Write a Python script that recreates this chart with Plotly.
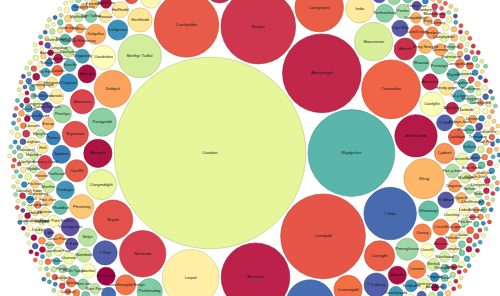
import math
import numpy as np
import plotly.graph_objects as go

# ---------------- data: places and how often each is mentioned ----------------
major_places = ["Llundain", "Rhydychen", "Caerdydd", "Aberystwyth", "Bangor", "Abertawe",
                "Caerfyrddin", "Caernarfon", "Lerpwl", "Y Bala", "Caergrawnt", "Wrecsam",
                "Bethesda", "Merthyr Tudful", "Aberhonddu", "Efrog", "Bryste", "Manceinion",
                "Dinbych", "Croesoswallt", "Caergybi", "Amlwch", "Llanymddyfri", "Pontypridd",
                "India", "Casnewydd", "Abergele", "Brynmawr", "Porthmadog", "Amwythig",
                "Machynlleth", "Henffordd", "Y Trallwng", "Llandudno", "Pwllheli", "Y Rhyl",
                "Biwmares", "Ffestiniog", "Llanfyllin", "Dulyn", "Pennsylvania", "Caerffili",
                "Aberdaugleddau", "Arberth", "Y Fenni", "Waunfawr"]
major_counts = [2250, 462, 441, 380, 342, 289, 256, 212, 196, 169,
                144, 144, 132, 116, 110, 100, 95, 90, 84, 76,
                56, 56, 56, 49, 49, 49, 49, 42, 39, 36,
                36, 36, 36, 36, 36, 36, 36, 36, 36, 30,
                30, 30, 30, 30, 30, 30]

places_25 = ["Abermaw", "Rhosneigr", "Y Drenewydd", "Bargod", "Castellnewydd Emlyn", "Cydweli",
             "Treffynnon", "Harlech", "Llanberis", "Abergwaun", "Mostyn", "Dolgellau"]
places_20 = ["Penrhyn", "Tyddewi", "Tredegar", "Aberdyfi", "Aberaeron", "Tregaron", "Llanidloes",
             "Nefyn", "Conwy", "Trefaldwyn", "Ystradgynlais", "Porthaethwy", "Aberdâr", "Corwen",
             "Penarth", "Rhuthun"]
places_16 = ["Cricieth", "Rhaeadr", "Dinas Mawddwy", "Abersoch", "Tywyn", "Ynys Môn", "Y Gelli",
             "Iwerddon", "Ffrainc", "Llandeilo", "Caeredin", "Patagonia", "Glyn Ebwy", "Yr Alban",
             "Sbaen", "Maesteg", "Llangollen", "Fflint", "Hwlffordd", "Bae Colwyn", "Prestatyn",
             "Caerloyw"]
places_12 = ["Aberteifi", "Caerfaddon", "Llandrindod", "Penfro", "Tonypandy", "Rhydaman",
             "Beddgelert", "Caer", "Llanelli", "Pen-y-bont", "Mwmbwls", "Trawsfynydd",
             "Dinbych-y-pysgod", "Gorseinon", "Llangefni", "Yr Almaen", "Caerwrangon", "Porthcawl",
             "Efrog Newydd", "Betws-y-Coed", "Awstralia", "Llanfair", "Hendy-gwyn", "Rhuddlan",
             "Treorci", "Menai", "Castell-nedd", "Wyddgrug", "Pontypŵl", "Leeds"]
places_9 = ["Abertyleri", "Blaenau Ffestiniog", "Caerlŷr", "Deganwy", "Ewrop", "Felinheli", "Groeg",
            "Hirwaun", "Llanbedr Pont Steffan", "Llanelwy", "Meifod", "Nantgarw", "Port Talbot",
            "Rhufain", "Sanclêr", "Talacharn", "Yr Eidal", "America", "Caergaint", "Llanrwst",
            "Penmaenmawr", "Trefdraeth", "Cwmbrân", "Llandysul", "Rhosllannerchrugog", "Tsieina",
            "Borth", "Caerllion", "Llansteffan", "Pontarddulais", "Tal-y-bont", "Dinorwig", "Lloegr",
            "Y Barri", "Affrica", "Caerwysg", "Moelfre", "Penrhyndeudraeth", "Rhymni", "Solfach"]
places_7 = ["Aberpennar", "Bedwas", "Caersws", "Dolwyddelan", "Eglwys-bach", "Ffair-rhos", "Glasgow",
            "Holt", "Iâl", "Libanus", "Llanbedr", "Llanwrtyd", "Maenclochog", "Nant Peris", "Pont-iets",
            "Rhiwabon", "Sain Ffagan", "Tre-gŵyr", "Wdig", "Y Waun", "Aberffraw", "Bodedern", "Caerwys",
            "Dyserth", "Llanfairfechan", "Llangrannog", "Mallwyd", "Nanhyfer", "Porth Tywyn", "Rhisga",
            "Trefriw", "Ystrad Mynach", "Abercynon", "Bontnewydd", "Canada", "Dinas Powys", "Gwalchmai",
            "Hengoed", "Lisbon", "Llantrisant", "Marchwiail", "Pumsaint", "Rhostryfan", "Trefor",
            "Waunarlwydd"]
places_5 = ["Aberaman", "Bow Street", "Cas-gwent", "Drefach", "Ewenni", "Felindre", "Gwaun-Cae-Gurwen",
            "Helygain", "Lydstep", "Llanuwchllyn", "Mynytho", "Nantlle", "Penisa'r-waun", "Rhoshirwaun",
            "Sili", "Tregarth", "Wolverhampton", "Yr Aifft", "Abergwili", "Brynaman", "Cefn Mawr",
            "Dowlais", "Eryri", "Ferndale", "Garndolbenmaen", "Hermon", "Leighton", "Llanybydder",
            "Minffordd", "Nelson", "Penygroes", "Rhydlewis", "Sir Fôn", "Treharris", "Ysbyty Ifan",
            "Aberllefenni", "Brynbuga", "Cei Newydd", "Dolgarrog", "Ffostrasol", "Glanaman",
            "Llanilltud Fawr", "Maentwrog", "Newcastle", "Pentraeth", "Rhosili", "Trelawnyd",
            "Washington", "Y Foel", "Cerrigydrudion", "Llanrhaeadr", "Pencader", "Tremadog", "Brymbo",
            "Clynnog"]
places_4 = ["Aberangell", "Bwlchgwyn", "Cwmaman", "Dyffryn", "Ffynnongroyw", "Glynceiriog", "Hiraethog",
            "Lwcsembwrg", "Llandybïe", "Mochdre", "Niwbwrch", "Pen-bre", "Rhiwbina", "Swydd Gaer",
            "Tonyrefail", "Walton", "Ynys Enlli", "Abercraf", "Birmingham", "Cwm-twrch", "Derwen",
            "Fochriw", "Gwernaffield", "Lamphey", "Llanarth", "Myddfai", "Norwy", "Pontardawe",
            "Rhandirmwyn", "Sarn", "Talgarth", "Y Bont-faen", "Berriew", "Cynwyd", "Dinas", "Gaerwen",
            "Llanddewi Brefi", "Margam", "Pontrhydfendigaid", "Rhosgadfan", "Talysarn", "Ystalyfera",
            "Crymych", "Llandyrnog", "Penllyn", "Trecastell", "Llanfihangel"]
places_3 = ["Bethel", "Llangadog", "Crughywel", "Pennal", "Dolbenmaen", "Llanon", "Gilfach Goch",
            "Morfa Nefyn", "Llwydlo", "Nebo", "Rhewl", "Trefyclo", "Cernyw", "Llangeitho",
            "Mynachlog-ddu", "Penderyn", "Llydaw", "Trimsaran", "Cilgerran", "Llangennech", "Pentyrch",
            "Tymbl", "Cemaes", "Llanharan", "Pumlumon", "Tudweiliog", "Dwygyfylchi", "Llanllyfni",
            "Pontllanfraith", "Tal-y-llyn", "Llannerch-y-medd", "Pwll", "Trelech", "Llanrug", "Paris",
            "Llansawel", "Rwsia", "Llanwnda", "Aberdaron", "Lledrod", "Llŷn"]
places_2 = ["Aberbargod", "Goginan", "Caerau", "Llanafan", "Cwmllynfell", "Dolanog", "Llanegryn",
            "Ffair Fach", "Bedwellte", "Llanfrothen", "Capel Curig", "Llangybi", "Garnswllt",
            "Llanddona", "Caerhun", "Abergorlech", "Hendre", "Aberporth", "Bancyfelin", "Gors-las",
            "Blaenpennal", "Llanbadarn Fawr", "Cefneithin", "Dihewyd", "Cwm Gwaun", "Llanddeiniol",
            "Eglwyswrw", "Ffarmers", "Llandegfan", "Llanafan Fawr"]
# places too small to carry a readable name: mention count -> number of places
unlabelled_places = {3: 40, 2: 170, 1: 320}

SPECTRAL = ["#9e0142", "#d53e4f", "#f46d43", "#fdae61", "#fee08b", "#ffffbf",
            "#e6f598", "#abdda4", "#66c2a5", "#3288bd", "#5e4fa2"]

# ---------------- assemble ----------------
names, counts = [], []
names += major_places
counts += major_counts
for v, grp in [(25, places_25), (20, places_20), (16, places_16), (12, places_12), (9, places_9),
               (7, places_7), (5, places_5), (4, places_4), (3, places_3), (2, places_2)]:
    names += grp
    counts += [v] * len(grp)
for v in sorted(unlabelled_places, reverse=True):
    names += [""] * unlabelled_places[v]
    counts += [v] * unlabelled_places[v]


def hex2rgb(h):
    return tuple(int(h[i:i + 2], 16) for i in (1, 3, 5))


def spectral(t):
    t = min(max(t, 0.0), 1.0) * (len(SPECTRAL) - 1)
    i = min(int(t), len(SPECTRAL) - 2)
    f = t - i
    a, b = hex2rgb(SPECTRAL[i]), hex2rgb(SPECTRAL[i + 1])
    return tuple(a[k] + (b[k] - a[k]) * f for k in range(3))


labelled = sorted(n for n in names if n)
rank = {n: i / (len(labelled) - 1) for i, n in enumerate(labelled)}

# ---------------- circle packing (front-chain, as d3.packSiblings) ----------------
PAD = 0.55


class Node:
    __slots__ = ("c", "next", "prev")

    def __init__(self, c):
        self.c = c
        self.next = None
        self.prev = None


def place(b, a, c):
    dx = b[0] - a[0]
    dy = b[1] - a[1]
    d2 = dx * dx + dy * dy
    if d2:
        a2 = (a[2] + c[2]) ** 2
        b2 = (b[2] + c[2]) ** 2
        if a2 > b2:
            x = (d2 + b2 - a2) / (2 * d2)
            y = math.sqrt(max(0.0, b2 / d2 - x * x))
            c[0] = b[0] - x * dx - y * dy
            c[1] = b[1] - x * dy + y * dx
        else:
            x = (d2 + a2 - b2) / (2 * d2)
            y = math.sqrt(max(0.0, a2 / d2 - x * x))
            c[0] = a[0] + x * dx - y * dy
            c[1] = a[1] + x * dy + y * dx
    else:
        c[0] = a[0] + c[2]
        c[1] = a[1]


def intersects(a, b):
    dr = a[2] + b[2] - 1e-6
    dx = b[0] - a[0]
    dy = b[1] - a[1]
    return dr > 0 and dr * dr > dx * dx + dy * dy


def score(node):
    a = node.c
    b = node.next.c
    ab = a[2] + b[2]
    dx = (a[0] * b[2] + b[0] * a[2]) / ab
    dy = (a[1] * b[2] + b[1] * a[2]) / ab
    return dx * dx + dy * dy


def pack(circles):
    n = len(circles)
    a = circles[0]
    a[0] = 0.0
    a[1] = 0.0
    b = circles[1]
    a[0] = -b[2]
    b[0] = a[2]
    b[1] = 0.0
    c = circles[2]
    place(b, a, c)
    A, B, C = Node(a), Node(b), Node(c)
    A.next = B
    C.prev = B
    B.next = C
    A.prev = C
    C.next = A
    B.prev = A
    a, b = A, B
    i = 3
    while i < n:
        ci = circles[i]
        place(a.c, b.c, ci)
        cn = Node(ci)
        j, k = b.next, a.prev
        sj, sk = b.c[2], a.c[2]
        restart = False
        while True:
            if sj <= sk:
                if intersects(j.c, cn.c):
                    b = j
                    a.next = b
                    b.prev = a
                    restart = True
                    break
                sj += j.c[2]
                j = j.next
            else:
                if intersects(k.c, cn.c):
                    a = k
                    a.next = b
                    b.prev = a
                    restart = True
                    break
                sk += k.c[2]
                k = k.prev
            if j is k.next:
                break
        if restart:
            continue
        cn.prev = a
        cn.next = b
        a.next = cn
        b.prev = cn
        b = cn
        aa = score(a)
        c = cn
        while True:
            c = c.next
            if c is b:
                break
            ca = score(c)
            if ca < aa:
                a, aa = c, ca
        b = a.next
        i += 1


order = sorted(range(len(counts)), key=lambda i: -counts[i])
circles = [[0.0, 0.0, math.sqrt(counts[i]) + PAD] for i in order]
pack(circles)

X = np.array([c[0] for c in circles])
Y = np.array([c[1] for c in circles])
R = np.array([c[2] for c in circles])

# enclosing circle (iterative approximation) sets the scale, as d3.pack does
cx, cy = X.mean(), Y.mean()
for it in range(1, 4000):
    d = np.hypot(X - cx, Y - cy) + R
    f = int(np.argmax(d))
    dd = math.hypot(X[f] - cx, Y[f] - cy) or 1.0
    px = X[f] + R[f] * (X[f] - cx) / dd
    py = Y[f] + R[f] * (Y[f] - cy) / dd
    cx += (px - cx) / (it + 1)
    cy += (py - cy) / (it + 1)
Renc = float(np.max(np.hypot(X - cx, Y - cy) + R))

W, H = 500, 296
s = 250.0 / Renc  # px per unit
LX, LY = X[0], Y[0]  # the largest circle anchors the view
x_range = [LX - 210 / s, LX + (W - 210) / s]
y_range = [LY + (H - 153) / s, LY - 153 / s]

shapes = []
tx, ty, tt = [], [], []
for idx, i in enumerate(order):
    r = math.sqrt(counts[i])
    x, y = X[idx], Y[idx]
    nm = names[i]
    if nm:
        rgb = spectral(rank[nm])
    else:
        rgb = spectral((idx * 0.618034) % 1.0)
    fill = "rgb(%d,%d,%d)" % tuple(round(v) for v in rgb)
    edge = "rgb(%d,%d,%d)" % tuple(round(v * 0.8) for v in rgb)
    shapes.append(dict(type="circle", xref="x", yref="y", x0=x - r, x1=x + r, y0=y - r, y1=y + r,
                       fillcolor=fill, line=dict(color=edge, width=0.6), layer="below"))
    visible = x_range[0] + 3 / s < x < x_range[1] - 3 / s and y_range[1] + 2 / s < y < y_range[0] - 2 / s
    if nm and visible:
        tx.append(x)
        ty.append(y)
        tt.append(nm)

fig = go.Figure()
fig.add_trace(go.Scatter(x=tx, y=ty, text=tt, mode="text",
                         textfont=dict(size=4, color="#1a1a1a", family="Liberation Sans, Arial"),
                         hoverinfo="text", showlegend=False))
fig.update_layout(width=W, height=H, margin=dict(l=0, r=0, t=0, b=0),
                  paper_bgcolor="white", plot_bgcolor="white", shapes=shapes, showlegend=False,
                  xaxis=dict(range=x_range, visible=False, fixedrange=True),
                  yaxis=dict(range=y_range, visible=False, fixedrange=True))
fig.write_html("out.html")
